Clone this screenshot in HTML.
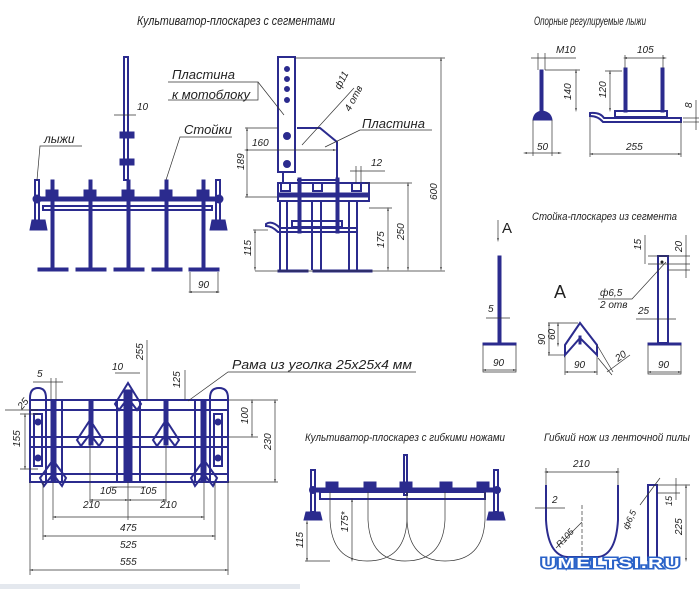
<!DOCTYPE html>
<html><head><meta charset="utf-8"><style>
html,body{margin:0;padding:0;background:#fff;}
svg{display:block;}
text{font-family:"Liberation Sans","DejaVu Sans",sans-serif;font-style:italic;fill:#222;}
.b{stroke:#2b2b8e;fill:none;stroke-width:2;}
.bf{fill:#2b2b8e;stroke:#2b2b8e;}
.t{stroke:#333;stroke-width:0.7;fill:none;}
.d{stroke:#333;stroke-width:0.7;fill:none;marker-start:url(#a);marker-end:url(#a);}
</style></head><body>
<svg width="699" height="589" viewBox="0 0 699 589" xmlns="http://www.w3.org/2000/svg">
<defs><marker id="a" viewBox="0 0 10 10" refX="5" refY="5" markerWidth="6" markerHeight="6" orient="auto-start-reverse"><path d="M0,3 L10,5 L0,7 z" fill="#333"/></marker></defs>

<!-- TOP LEFT FRONT VIEW -->
<text x="137" y="25" font-size="13" textLength="198" lengthAdjust="spacingAndGlyphs">Культиватор-плоскарез с сегментами</text>
<rect x="124" y="57" width="4" height="123" class="b" stroke-width="1.5"/>
<rect x="120" y="132" width="14" height="6" class="bf"/>
<rect x="120" y="159" width="14" height="6" class="bf"/>
<line x1="114" y1="115" x2="136" y2="115" class="t"/><text x="137" y="110" font-size="10">10</text>
<rect x="35" y="197" width="187" height="4" class="bf"/>
<rect x="43" y="206" width="169" height="4" class="b" stroke-width="1.2"/>
<g class="bf">
<rect x="51" y="180" width="3" height="90"/><rect x="89" y="180" width="3" height="90"/><rect x="127" y="180" width="3" height="90"/><rect x="165" y="180" width="3" height="90"/><rect x="202" y="180" width="3" height="90"/>
<rect x="38" y="268" width="30" height="3"/><rect x="76" y="268" width="30" height="3"/><rect x="114" y="268" width="30" height="3"/><rect x="152" y="268" width="30" height="3"/><rect x="189" y="268" width="30" height="3"/>
<rect x="46" y="190" width="12" height="7"/><rect x="84" y="190" width="12" height="7"/><rect x="122" y="190" width="12" height="7"/><rect x="160" y="190" width="12" height="7"/><rect x="197" y="190" width="12" height="7"/>
<path d="M30,230 L32,220 L45,220 L47,230 z"/><path d="M210,230 L212,220 L225,220 L227,230 z"/>
<circle cx="37" cy="199" r="4"/><circle cx="219" cy="199" r="4"/>
</g>
<rect x="35" y="180" width="4" height="42" class="b" stroke-width="1.2"/>
<rect x="216" y="180" width="4" height="42" class="b" stroke-width="1.2"/>
<text x="44" y="143" font-size="12">лыжи</text>
<polyline points="82,146 40,146 37,180" class="t"/>
<text x="184" y="134" font-size="13">Стойки</text>
<polyline points="232,137 180,137 166,180" class="t"/>
<line x1="190" y1="272" x2="190" y2="293" class="t"/><line x1="218" y1="272" x2="218" y2="293" class="t"/>
<line x1="190" y1="292" x2="218" y2="292" class="d"/><text x="198" y="288" font-size="10">90</text>

<!-- TOP SIDE VIEW -->
<rect x="278" y="57" width="17" height="115" class="b" stroke-width="1.3"/>
<line x1="283" y1="172" x2="283" y2="183" class="b" stroke-width="1.2"/>
<g class="bf"><circle cx="287" cy="69" r="2.5"/><circle cx="287" cy="79" r="2.5"/><circle cx="287" cy="89" r="2.5"/><circle cx="287" cy="100" r="2.5"/><circle cx="287" cy="136" r="3.5"/><circle cx="287" cy="164" r="3.5"/></g>
<path d="M297,128 L320,128 L337,142 L337,180 L297,180" class="b" stroke-width="1.3"/>
<text x="172" y="79" font-size="13">Пластина</text>
<text x="172" y="99" font-size="13">к мотоблоку</text>
<polyline points="168,82 258,82 258,100 168,100" class="t"/>
<line x1="258" y1="82" x2="284" y2="115" class="t"/>
<text x="0" y="0" font-size="10" transform="translate(340,90) rotate(-62)">ф11</text>
<text x="0" y="0" font-size="10" transform="translate(350,112) rotate(-62)">4 отв</text>
<line x1="354" y1="88" x2="302" y2="145" class="t"/>
<text x="362" y="128" font-size="13">Пластина</text>
<polyline points="432,130 360,130 325,147" class="t"/>
<line x1="246" y1="150" x2="335" y2="150" class="d"/><text x="252" y="146" font-size="10">160</text>
<line x1="245" y1="128" x2="278" y2="128" class="t"/><line x1="245" y1="197" x2="278" y2="197" class="t"/>
<line x1="247" y1="129" x2="247" y2="196" class="d"/><text x="0" y="0" font-size="10" transform="translate(244,170) rotate(-90)">189</text>
<rect x="278" y="183" width="91" height="18" class="b" stroke-width="1.3"/>
<rect x="278" y="193" width="91" height="4" class="bf"/>
<g class="b" stroke-width="1.2"><rect x="281" y="183" width="9" height="8"/><rect x="313" y="183" width="9" height="8"/><rect x="352" y="183" width="9" height="8"/></g>
<g class="bf"><rect x="298" y="178" width="3" height="55"/><rect x="336" y="178" width="3" height="55"/>
<rect x="278" y="270" width="30" height="2"/><rect x="313" y="270" width="30" height="2"/><rect x="342" y="270" width="30" height="2"/></g>
<g class="b" stroke-width="1.2">
<line x1="280" y1="201" x2="280" y2="270"/><line x1="287" y1="201" x2="287" y2="270"/><line x1="312" y1="201" x2="312" y2="270"/><line x1="321" y1="201" x2="321" y2="270"/><line x1="349" y1="201" x2="349" y2="270"/><line x1="357" y1="201" x2="357" y2="270"/>
<rect x="292" y="221" width="50" height="6"/>
<path d="M266,224 Q272,220 280,228 L357,228 L357,232 L278,232 Q272,226 266,226 z"/>
</g>
<line x1="350" y1="171" x2="385" y2="171" class="t"/><line x1="356" y1="166" x2="356" y2="183" class="t"/><line x1="361" y1="166" x2="361" y2="183" class="t"/><text x="371" y="166" font-size="10">12</text>
<line x1="295" y1="58" x2="445" y2="58" class="t"/><line x1="441" y1="59" x2="441" y2="269" class="d"/><text x="0" y="0" font-size="10" transform="translate(437,200) rotate(-90)">600</text>
<line x1="365" y1="183" x2="412" y2="183" class="t"/><line x1="408" y1="184" x2="408" y2="269" class="d"/><text x="0" y="0" font-size="10" transform="translate(404,240) rotate(-90)">250</text>
<line x1="369" y1="208" x2="392" y2="208" class="t"/><line x1="388" y1="209" x2="388" y2="269" class="d"/><text x="0" y="0" font-size="10" transform="translate(384,248) rotate(-90)">175</text>
<line x1="253" y1="230" x2="268" y2="230" class="t"/><line x1="255" y1="231" x2="255" y2="269" class="d"/><text x="0" y="0" font-size="10" transform="translate(251,256) rotate(-90)">115</text>
<line x1="255" y1="271" x2="445" y2="271" class="t"/>

<!-- TOP RIGHT SKIS -->
<text x="534" y="25" font-size="12" textLength="112" lengthAdjust="spacingAndGlyphs">Опорные регулируемые лыжи</text>
<rect x="540" y="70" width="3" height="42" class="bf"/>
<path d="M533,120 Q534,112 542,111 Q551,112 552,120 z" class="bf"/>
<line x1="531" y1="58" x2="576" y2="58" class="t"/><line x1="538" y1="53" x2="538" y2="70" class="t"/><line x1="545" y1="53" x2="545" y2="70" class="t"/><text x="556" y="53" font-size="10">М10</text>
<line x1="545" y1="70" x2="580" y2="70" class="t"/><line x1="576" y1="71" x2="576" y2="110" class="d"/><text x="0" y="0" font-size="10" transform="translate(571,100) rotate(-90)">140</text>
<line x1="533" y1="120" x2="533" y2="156" class="t"/><line x1="552" y1="120" x2="552" y2="156" class="t"/><line x1="525" y1="153" x2="560" y2="153" class="d"/><text x="537" y="150" font-size="10">50</text>
<rect x="624" y="68" width="3" height="44" class="bf"/><rect x="661" y="68" width="3" height="44" class="bf"/>
<path d="M590,113 Q600,112 604,118 L681,118 L681,122 L603,122 Q598,116 590,116 z" class="b" stroke-width="1.3"/>
<rect x="615" y="111" width="52" height="6" class="b" stroke-width="1.2"/>
<line x1="625" y1="58" x2="665" y2="58" class="d"/><line x1="625" y1="55" x2="625" y2="68" class="t"/><line x1="663" y1="55" x2="663" y2="68" class="t"/><text x="637" y="53" font-size="10">105</text>
<line x1="605" y1="71" x2="622" y2="71" class="t"/><line x1="610" y1="72" x2="610" y2="110" class="d"/><text x="0" y="0" font-size="10" transform="translate(606,98) rotate(-90)">120</text>
<line x1="590" y1="117" x2="590" y2="157" class="t"/><line x1="681" y1="122" x2="681" y2="157" class="t"/><line x1="591" y1="154" x2="680" y2="154" class="d"/><text x="626" y="150" font-size="10">255</text>
<line x1="683" y1="118" x2="699" y2="118" class="t"/><line x1="683" y1="122" x2="699" y2="122" class="t"/><line x1="696" y1="100" x2="696" y2="130" class="t"/><text x="0" y="0" font-size="10" transform="translate(692,108) rotate(-90)">8</text>

<!-- MIDDLE RIGHT STANDARD -->
<text x="532" y="220" font-size="11" textLength="145" lengthAdjust="spacingAndGlyphs">Стойка-плоскарез из сегмента</text>
<text x="502" y="233" font-size="15" style="font-style:normal">A</text>
<line x1="498" y1="220" x2="498" y2="240" class="t" marker-end="url(#a)"/>
<rect x="498" y="256" width="3" height="87" class="bf"/>
<rect x="483" y="343" width="33" height="2" class="bf"/>
<polyline points="483,345 483,372 516,372 516,345" class="t"/>
<line x1="484" y1="370" x2="515" y2="370" class="d"/><text x="493" y="366" font-size="10">90</text>
<line x1="486" y1="318" x2="510" y2="318" class="t"/><text x="488" y="312" font-size="10">5</text>
<text x="554" y="298" font-size="18" style="font-style:normal">A</text>
<path d="M565,345 L580,323 L597,345 L597,355 L580,338 L565,355 z" class="b" stroke-width="1.5"/>
<rect x="579" y="336" width="2" height="8" class="bf"/>
<line x1="548" y1="323" x2="578" y2="323" class="t"/><line x1="548" y1="355" x2="564" y2="355" class="t"/>
<line x1="549" y1="324" x2="549" y2="354" class="d"/><text x="0" y="0" font-size="10" transform="translate(545,345) rotate(-90)">90</text>
<line x1="558" y1="324" x2="558" y2="345" class="d"/><text x="0" y="0" font-size="10" transform="translate(555,340) rotate(-90)">60</text>
<line x1="565" y1="356" x2="565" y2="375" class="t"/><line x1="597" y1="356" x2="597" y2="375" class="t"/><line x1="566" y1="372" x2="596" y2="372" class="d"/><text x="574" y="368" font-size="10">90</text>
<line x1="597" y1="345" x2="613" y2="372" class="t"/><line x1="598" y1="358" x2="612" y2="375" class="t"/><line x1="607" y1="372" x2="630" y2="355" class="t"/><text x="0" y="0" font-size="10" transform="translate(618,362) rotate(-35)">20</text>
<rect x="658" y="256" width="10" height="87" class="b" stroke-width="1.3"/>
<circle cx="662" cy="262" r="1.5" fill="#222"/>
<rect x="648" y="343" width="33" height="2" class="bf"/>
<polyline points="648,345 648,374 681,374 681,345" class="t"/>
<line x1="649" y1="372" x2="680" y2="372" class="d"/><text x="658" y="368" font-size="10">90</text>
<line x1="648" y1="256" x2="690" y2="256" class="t"/><line x1="648" y1="264" x2="690" y2="264" class="t"/><line x1="668" y1="270" x2="690" y2="270" class="t"/>
<line x1="645" y1="235" x2="645" y2="264" class="t"/><text x="0" y="0" font-size="10" transform="translate(641,250) rotate(-90)">15</text>
<line x1="686" y1="235" x2="686" y2="278" class="t"/><text x="0" y="0" font-size="10" transform="translate(682,252) rotate(-90)">20</text>
<text x="600" y="296" font-size="10">ф6,5</text><text x="600" y="308" font-size="10">2 отв</text>
<polyline points="598,299 632,299 666,262" class="t"/>
<line x1="636" y1="319" x2="676" y2="319" class="t"/><text x="638" y="314" font-size="10">25</text>

<!-- BOTTOM LEFT TOP VIEW -->
<rect x="30" y="400" width="198" height="82" class="b" stroke-width="1.3"/>
<path d="M30,482 L30,398 Q30,388 38,388 Q46,388 46,398 L46,482" class="b" stroke-width="1.3"/>
<path d="M210,482 L210,398 Q210,388 219,388 Q228,388 228,398 L228,482" class="b" stroke-width="1.3"/>
<g class="b" stroke-width="1"><line x1="30" y1="410" x2="228" y2="410"/><line x1="30" y1="437" x2="228" y2="437"/><line x1="30" y1="447" x2="228" y2="447"/><line x1="30" y1="474" x2="228" y2="474"/>
<rect x="34" y="414" width="8" height="52"/><rect x="214" y="414" width="8" height="52"/>
<line x1="62" y1="400" x2="62" y2="482"/><line x1="117" y1="400" x2="117" y2="482"/><line x1="140" y1="400" x2="140" y2="482"/><line x1="195" y1="400" x2="195" y2="482"/></g>
<g class="bf">
<rect x="51" y="400" width="5" height="82"/><rect x="89" y="400" width="4" height="45"/><rect x="124" y="390" width="8" height="92"/><rect x="164" y="400" width="4" height="45"/><rect x="201" y="400" width="5" height="82"/>
<circle cx="38" cy="422" r="3"/><circle cx="38" cy="458" r="3"/><circle cx="218" cy="422" r="3"/><circle cx="218" cy="458" r="3"/>
</g>
<g class="b" stroke-width="1">
<path d="M53,460 L40,478 L44,486 L53,474 L62,486 L66,478 z"/><path d="M90,420 L77,440 L81,446 L90,434 L99,446 L103,440 z"/><path d="M128,383 L115,404 L119,410 L128,398 L137,410 L141,404 z"/><path d="M166,420 L153,440 L157,446 L166,434 L175,446 L179,440 z"/><path d="M204,460 L191,478 L195,486 L204,474 L213,486 L217,478 z"/>
</g>
<line x1="53" y1="482" x2="53" y2="520" class="t"/><line x1="204" y1="482" x2="204" y2="520" class="t"/><line x1="128" y1="482" x2="128" y2="520" class="t"/>
<line x1="90" y1="445" x2="90" y2="502" class="t"/><line x1="166" y1="445" x2="166" y2="502" class="t"/>
<line x1="54" y1="517" x2="203" y2="517" class="d"/><text x="120" y="531" font-size="10">475</text>
<line x1="91" y1="500" x2="127" y2="500" class="d"/><line x1="129" y1="500" x2="165" y2="500" class="d"/><text x="83" y="508" font-size="10">210</text><text x="160" y="508" font-size="10">210</text>
<line x1="110" y1="487" x2="146" y2="487" class="t"/><text x="100" y="494" font-size="10">105</text><text x="140" y="494" font-size="10">105</text>
<line x1="43" y1="482" x2="43" y2="540" class="t"/><line x1="215" y1="482" x2="215" y2="540" class="t"/><line x1="44" y1="536" x2="214" y2="536" class="d"/><text x="120" y="548" font-size="10">525</text>
<line x1="30" y1="482" x2="30" y2="575" class="t"/><line x1="228" y1="482" x2="228" y2="575" class="t"/><line x1="31" y1="570" x2="227" y2="570" class="d"/><text x="120" y="565" font-size="10">555</text>
<line x1="33" y1="382" x2="63" y2="382" class="t"/><line x1="51" y1="378" x2="51" y2="400" class="t"/><line x1="56" y1="378" x2="56" y2="400" class="t"/><text x="37" y="377" font-size="10">5</text>
<line x1="115" y1="373" x2="140" y2="373" class="t"/><text x="112" y="370" font-size="10">10</text>
<line x1="147" y1="340" x2="147" y2="400" class="t"/><text x="0" y="0" font-size="10" transform="translate(143,360) rotate(-90)">255</text>
<line x1="185" y1="370" x2="185" y2="400" class="t"/><text x="0" y="0" font-size="10" transform="translate(180,388) rotate(-90)">125</text>
<line x1="5" y1="410" x2="38" y2="410" class="t"/><text x="0" y="0" font-size="10" transform="translate(22,410) rotate(-50)">25</text>
<line x1="20" y1="414" x2="38" y2="414" class="t"/><line x1="20" y1="469" x2="38" y2="469" class="t"/><line x1="25" y1="415" x2="25" y2="468" class="d"/><text x="0" y="0" font-size="10" transform="translate(20,447) rotate(-90)">155</text>
<line x1="228" y1="400" x2="278" y2="400" class="t"/><line x1="228" y1="437" x2="258" y2="437" class="t"/><line x1="228" y1="482" x2="278" y2="482" class="t"/>
<line x1="252" y1="401" x2="252" y2="436" class="d"/><text x="0" y="0" font-size="10" transform="translate(248,424) rotate(-90)">100</text>
<line x1="275" y1="401" x2="275" y2="481" class="d"/><text x="0" y="0" font-size="10" transform="translate(271,450) rotate(-90)">230</text>
<text x="232" y="369" font-size="13" textLength="180" lengthAdjust="spacingAndGlyphs">Рама из уголка 25х25х4 мм</text>
<polyline points="416,372 228,372 188,401" class="t"/>

<!-- BOTTOM MIDDLE -->
<text x="305" y="441" font-size="11" textLength="200" lengthAdjust="spacingAndGlyphs">Культиватор-плоскарез с гибкими ножами</text>
<rect x="404" y="455" width="3" height="40" class="b" stroke-width="1.2"/>
<rect x="310" y="488" width="185" height="4" class="bf"/>
<rect x="320" y="492" width="165" height="7" class="b" stroke-width="1.2"/>
<g class="bf"><rect x="326" y="482" width="12" height="6"/><rect x="364" y="482" width="12" height="6"/><rect x="400" y="482" width="12" height="6"/><rect x="440" y="482" width="12" height="6"/><rect x="477" y="482" width="12" height="6"/>
<path d="M304,520 L306,512 L320,512 L322,520 z"/><path d="M487,520 L489,512 L503,512 L505,520 z"/><circle cx="313" cy="490" r="3.5"/><circle cx="497" cy="490" r="3.5"/></g>
<rect x="311" y="470" width="4" height="42" class="b" stroke-width="1.2"/><rect x="494" y="470" width="4" height="42" class="b" stroke-width="1.2"/>
<g class="t" stroke-width="1"><path d="M330,492 L330,520 Q332,561 367,561 Q405,561 407,520 L407,492"/><path d="M368,492 L368,520 Q370,561 405,561 Q443,561 445,520 L445,492"/><path d="M407,492 L407,520 Q409,561 445,561 Q483,561 485,520 L485,492"/></g>
<line x1="307" y1="522" x2="307" y2="560" class="d"/><text x="0" y="0" font-size="10" transform="translate(303,548) rotate(-90)">115</text>
<line x1="352" y1="500" x2="352" y2="560" class="d"/><text x="0" y="0" font-size="10" transform="translate(348,532) rotate(-90)">175*</text>
<line x1="305" y1="561" x2="330" y2="561" class="t"/>

<!-- BOTTOM RIGHT -->
<text x="544" y="441" font-size="11" textLength="146" lengthAdjust="spacingAndGlyphs">Гибкий нож из ленточной пилы</text>
<path d="M546,485 L546,520 Q548,555 567,557 L598,557 Q616,555 618,520 L618,485" class="b" stroke-width="1.5"/>
<line x1="546" y1="472" x2="618" y2="472" class="d"/><line x1="546" y1="468" x2="546" y2="485" class="t"/><line x1="618" y1="468" x2="618" y2="485" class="t"/><text x="573" y="467" font-size="10">210</text>
<line x1="535" y1="508" x2="565" y2="508" class="t"/><text x="552" y="503" font-size="10">2</text>
<line x1="582" y1="505" x2="582" y2="560" class="t" stroke-dasharray="4,2"/>
<line x1="556" y1="548" x2="582" y2="522" class="t"/><text x="0" y="0" font-size="9" transform="translate(560,548) rotate(-48)">R105</text>
<rect x="648" y="485" width="9" height="75" class="b" stroke-width="1.3"/>
<line x1="640" y1="505" x2="660" y2="478" class="t"/><text x="0" y="0" font-size="9" transform="translate(628,530) rotate(-65)">ф6,5</text>
<line x1="657" y1="485" x2="690" y2="485" class="t"/><line x1="657" y1="493" x2="680" y2="493" class="t"/>
<line x1="676" y1="478" x2="676" y2="500" class="t"/><text x="0" y="0" font-size="9" transform="translate(672,506) rotate(-90)">15</text>
<line x1="686" y1="486" x2="686" y2="560" class="d"/><text x="0" y="0" font-size="10" transform="translate(682,535) rotate(-90)">225</text>
<text x="541" y="568" font-size="15" style="font-style:normal;font-weight:bold;letter-spacing:1px;fill:#fff;stroke:#2a62c8;stroke-width:3;paint-order:stroke;" textLength="140" lengthAdjust="spacingAndGlyphs">UMELTSI.RU</text>
<rect x="0" y="584" width="300" height="5" fill="#e4e8ee"/>
</svg>
</body></html>
